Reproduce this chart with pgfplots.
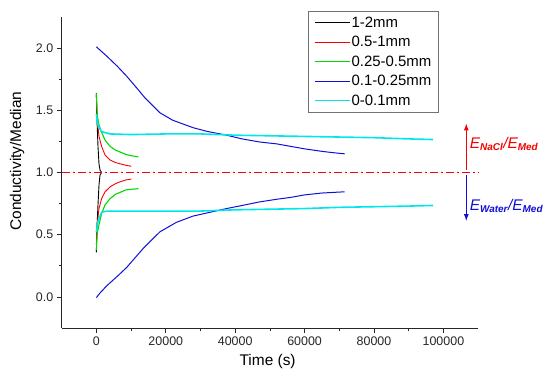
\documentclass[border=0pt]{standalone}
\usepackage{pgfplots}
\pgfplotsset{compat=1.18}
\usepackage{fontspec}
\setmainfont{Liberation Sans}
\usetikzlibrary{arrows.meta}
\definecolor{cblack}{RGB}{0,0,0}
\definecolor{cred}{RGB}{245,0,0}
\definecolor{cgreen}{RGB}{0,215,0}
\definecolor{cblue}{RGB}{15,15,215}
\definecolor{ccyan}{RGB}{0,230,235}
\begin{document}
\begin{tikzpicture}[x=1bp,y=1bp]
\path (0,0) rectangle (550,382);
\begin{axis}[
  at={(61.7bp,54bp)}, anchor=south west,
  scale only axis, width=416.4bp, height=311bp,
  xmin=-10000, xmax=110000, ymin=-0.25, ymax=2.25,
  axis x line*=bottom, axis y line*=left,
  axis line style={line width=0.9pt, black!85},
  xtick={0,20000,40000,60000,80000,100000},
  ytick={0,0.5,1,1.5,2},
  minor x tick num=1, minor y tick num=1,
  tick align=outside,
  major tick length=5bp, minor tick length=3bp,
  every tick/.style={black!85, line width=0.8pt},
  scaled x ticks=false,
  xticklabel style={/pgf/number format/.cd, fixed, set thousands separator={}},
  yticklabel style={/pgf/number format/.cd, fixed, fixed zerofill, precision=1},
  /pgf/number format/assume math mode=true,
  tick label style={font=\fontsize{12.5}{15}\selectfont, text=black!85},
  xlabel={Time (s)}, ylabel={Conductivity/Median},
  every axis x label/.style={at={(axis description cs:0.4945,-0.1093)}, anchor=center, font=\fontsize{15.5}{18}\selectfont},
  every axis y label/.style={at={(axis description cs:-0.1073,0.537)}, anchor=center, rotate=90, font=\fontsize{15.5}{18}\selectfont},
  clip=false,
  legend style={at={(axis description cs:0.591,1.0203)}, anchor=north west,
    draw=black!55, line width=0.8pt, font=\fontsize{15}{17}\selectfont,
    inner xsep=6bp, inner ysep=4.5bp, row sep=5.2bp,
    nodes={inner sep=1.2bp}},
  legend cell align=left,
  legend image code/.code={\draw[#1, line width=1.15pt] (0bp,0bp) -- (35bp,0bp);},
]
% 1-2mm
\addplot[cblack, line width=0.9pt] coordinates {(0,1.636) (40,1.55) (100,1.45) (200,1.40) (460,1.21) (750,1.07) (1040,1.02) (1500,1.0)};
\addlegendentry{1-2mm}
\addplot[cblack, line width=0.9pt, forget plot] coordinates {(0,0.357) (40,0.45) (100,0.52) (460,0.74) (750,0.90) (1040,0.98) (1500,1.0)};
% 0.5-1mm
\addplot[cred, line width=0.9pt] coordinates {(0,1.61) (100,1.50) (290,1.41) (750,1.29) (1500,1.21) (2500,1.14) (3950,1.10) (5500,1.08) (6800,1.07) (8500,1.058) (10050,1.05)};
\addlegendentry{0.5-1mm}
\addplot[cred, line width=0.9pt, forget plot] coordinates {(0,0.42) (100,0.52) (290,0.60) (750,0.71) (1500,0.79) (2500,0.845) (3950,0.885) (5500,0.91) (6800,0.925) (8500,0.94) (10050,0.947)};
% 0.25-0.5mm
\addplot[cgreen, line width=1.1pt] coordinates {(0,1.63) (300,1.45) (700,1.39) (1230,1.34) (2500,1.26) (3950,1.21) (5500,1.18) (6800,1.165) (8500,1.145) (10000,1.135) (12090,1.126)};
\addlegendentry{0.25-0.5mm}
\addplot[cgreen, line width=1.1pt, forget plot] coordinates {(0,0.375) (100,0.44) (290,0.52) (750,0.58) (1500,0.67) (2500,0.74) (3950,0.79) (5500,0.825) (6800,0.84) (8500,0.86) (10000,0.865) (12090,0.87)};
% 0.1-0.25mm
\addplot[cblue, line width=1.0pt] coordinates {(0,2.01) (3000,1.935) (6000,1.855) (8700,1.775) (11000,1.70) (14000,1.60) (18300,1.48) (22000,1.42) (27900,1.36) (32000,1.33) (37500,1.30) (42000,1.27) (47100,1.245) (52000,1.23) (56000,1.21) (60000,1.19) (65000,1.17) (68000,1.16) (71560,1.15)};
\addlegendentry{0.1-0.25mm}
\addplot[cblue, line width=1.0pt, forget plot] coordinates {(0,-0.005) (1000,0.03) (3000,0.09) (6000,0.165) (8700,0.236) (11000,0.31) (13500,0.39) (16000,0.46) (18300,0.523) (23100,0.60) (27900,0.65) (32700,0.68) (37500,0.71) (42000,0.735) (47100,0.764) (52000,0.785) (56000,0.80) (60000,0.82) (65000,0.835) (71560,0.845)};
% 0-0.1mm
\addplot[ccyan, line width=1.6pt] coordinates {(0,1.47) (200,1.42) (500,1.38) (1000,1.35) (1500,1.33) (2500,1.32) (4000,1.31) (10000,1.305) (20000,1.31) (30000,1.31) (40000,1.30) (50000,1.295) (60000,1.29) (70000,1.285) (80000,1.28) (90000,1.27) (97000,1.265)};
\addlegendentry{0-0.1mm}
\addplot[ccyan, line width=1.6pt, forget plot] coordinates {(0,0.52) (200,0.56) (500,0.61) (750,0.63) (1500,0.68) (3000,0.69) (10000,0.69) (20000,0.69) (30000,0.69) (40000,0.70) (50000,0.705) (60000,0.71) (70000,0.72) (80000,0.725) (90000,0.73) (97000,0.735)};
% reference line
\addplot[cred, line width=1.1pt, dash pattern=on 8bp off 3bp on 2bp off 3bp, forget plot] coordinates {(-10000,1) (110000,1)};
% annotations
\draw[cred, line width=1.1pt, -{Latex[length=7bp,width=5bp]}] (axis cs:106600,1.02) -- (axis cs:106600,1.395);
\draw[cblue, line width=1.1pt, -{Latex[length=7bp,width=5bp]}] (axis cs:106600,0.98) -- (axis cs:106600,0.609);
\node[anchor=base west, inner sep=0pt, text=cred, font=\fontsize{15.5}{18}\selectfont\itshape] at (axis cs:107540,1.194)
  {E\textsubscript{\bfseries\fontsize{10}{12}\selectfont NaCl}/E\textsubscript{\bfseries\fontsize{10}{12}\selectfont Med}};
\node[anchor=base west, inner sep=0pt, text=cblue, font=\fontsize{15.5}{18}\selectfont\itshape] at (axis cs:107540,0.698)
  {E\textsubscript{\bfseries\fontsize{10}{12}\selectfont Water}/E\textsubscript{\bfseries\fontsize{10}{12}\selectfont Med}};
\end{axis}
\end{tikzpicture}
\end{document}
